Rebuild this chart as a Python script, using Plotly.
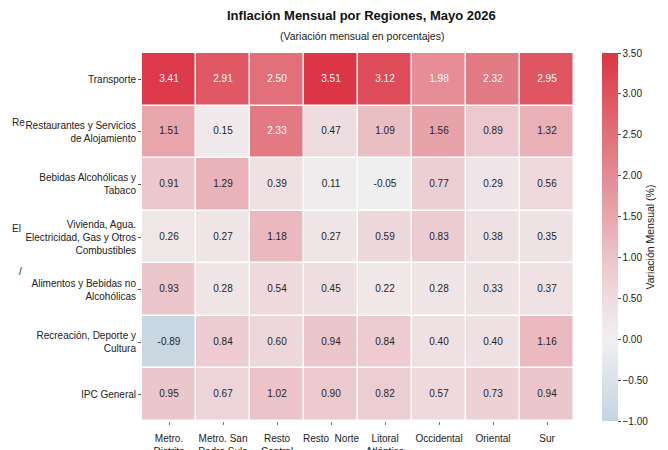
"""Heatmap: inflación mensual por regiones y división de gasto."""

import plotly.graph_objects as go

regions = [
    "Metro.<br>Distrito", "Metro. San<br>Pedro Sula", "Resto<br>Central", "Resto\u00a0 Norte",
    "Litoral<br>Atlántico", "Occidental", "Oriental", "Sur",
]
divisions = [
    "Transporte",
    "Restaurantes y Servicios<br>de Alojamiento",
    "Bebidas Alcohólicas y<br>Tabaco",
    "Vivienda, Agua.<br>Electricidad, Gas y Otros<br>Combustibles",
    "Alimentos y Bebidas no<br>Alcohólicas",
    "Recreación, Deporte y<br>Cultura",
    "IPC General",
]
transporte = [3.41, 2.91, 2.50, 3.51, 3.12, 1.98, 2.32, 2.95]
restaurantes = [1.51, 0.15, 2.33, 0.47, 1.09, 1.56, 0.89, 1.32]
bebidas = [0.91, 1.29, 0.39, 0.11, -0.05, 0.77, 0.29, 0.56]
vivienda = [0.26, 0.27, 1.18, 0.27, 0.59, 0.83, 0.38, 0.35]
alimentos = [0.93, 0.28, 0.54, 0.45, 0.22, 0.28, 0.33, 0.37]
recreacion = [-0.89, 0.84, 0.60, 0.94, 0.84, 0.40, 0.40, 1.16]
ipc_general = [0.95, 0.67, 1.02, 0.90, 0.82, 0.57, 0.73, 0.94]
cbar_ticks = [-1.0, -0.5, 0.0, 0.5, 1.0, 1.5, 2.0, 2.5, 3.0, 3.5]

# clipped label fragments peeking out on the left of the reference
fragments = ["Re", "El", "/"]
fragment_pos = [(-0.306, 0.8125), (-0.306, 0.522), (-0.29, 0.405)]

z = [transporte, restaurantes, bebidas, vivienda, alimentos, recreacion, ipc_general]
ZMIN, ZMAX = -1.0, 3.5
FONT = "Liberation Sans, Arial, sans-serif"


def frac(v):
    return (v - ZMIN) / (ZMAX - ZMIN)


colorscale = [
    [frac(-1.0), "#c4d4e0"],
    [frac(0.0), "#f1f0f1"],
    [frac(0.5), "#eedcdf"],
    [frac(1.0), "#ebc4c9"],
    [frac(1.5), "#e8a6ad"],
    [frac(2.5), "#e1707a"],
    [frac(3.5), "#dc3545"],
]

fig = go.Figure()
fig.add_trace(go.Heatmap(
    z=z, x=regions, y=divisions,
    zmin=ZMIN, zmax=ZMAX,
    colorscale=colorscale,
    xgap=1.5, ygap=1.5,
    hoverinfo="skip",
    colorbar={
        "x": 1.065, "xanchor": "left", "y": 0.5, "len": 1.0,
        "thickness": 16, "outlinewidth": 0, "xpad": 0, "ypad": 0,
        "tickvals": cbar_ticks, "tickformat": ".2f",
        "ticks": "outside", "ticklen": 3, "tickcolor": "#555",
        "tickfont": {"size": 10, "color": "#222", "family": FONT},
        "title": {"text": "Variación Mensual (%)", "side": "right",
                  "font": {"size": 10.5, "color": "#222", "family": FONT}},
    },
))

# cell labels
xs, ys, txt, cols = [], [], [], []
for r, row in zip(divisions, z):
    for c, v in zip(regions, row):
        xs.append(c)
        ys.append(r)
        txt.append(f"{v:.2f}")
        cols.append("white" if v > 1.8 else "#262626")
fig.add_trace(go.Scatter(
    x=xs, y=ys, text=txt, mode="text",
    textfont={"size": 10, "color": cols, "family": FONT},
    hoverinfo="skip", showlegend=False,
))

fig.add_annotation(
    text="<b>Inflación Mensual por Regiones, Mayo 2026</b>",
    xref="paper", yref="paper", x=0.509, y=1.0, yshift=38, yanchor="middle",
    showarrow=False, font={"size": 13, "color": "#111", "family": FONT},
)
fig.add_annotation(
    text="(Variación mensual en porcentajes)",
    xref="paper", yref="paper", x=0.509, y=1.0, yshift=17, yanchor="middle",
    showarrow=False, font={"size": 10.5, "color": "#222", "family": FONT},
)
for t, (fx, fy) in zip(fragments, fragment_pos):
    fig.add_annotation(
        text=t, xref="paper", yref="paper", x=fx, y=fy,
        xanchor="left", yanchor="middle",
        showarrow=False, font={"size": 10, "color": "#222", "family": FONT},
    )

# the page adds an 8px body margin, so the figure is 8px smaller on each axis
fig.update_layout(
    width=660, height=442,
    margin={"l": 134, "r": 94, "t": 45, "b": 29, "autoexpand": False},
    paper_bgcolor="white", plot_bgcolor="white",
    font={"family": FONT, "size": 10, "color": "#222"},
    xaxis={"showgrid": False, "zeroline": False, "ticks": "outside", "ticklen": 3,
           "tickcolor": "#777", "tickangle": 0, "tickfont": {"size": 10},
           "ticklabelstandoff": 5},
    yaxis={"showgrid": False, "zeroline": False, "autorange": "reversed",
           "ticks": "outside", "ticklen": 3, "tickcolor": "#555",
           "tickfont": {"size": 10}},
    showlegend=False,
)

fig.write_html("out.html")
